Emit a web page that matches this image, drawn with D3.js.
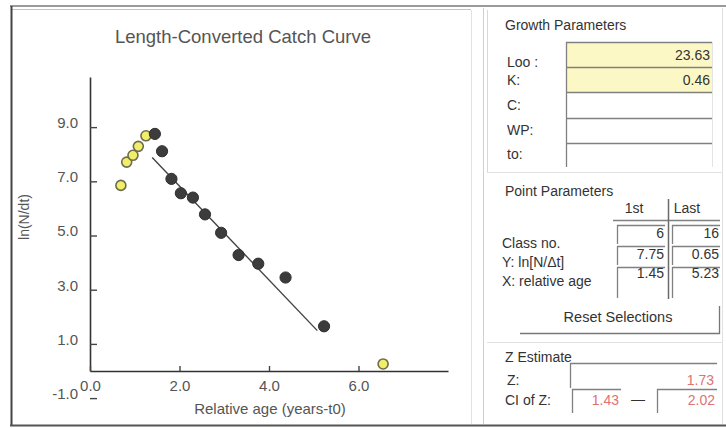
<!DOCTYPE html>
<html>
<head>
<meta charset="utf-8">
<script src="https://cdn.jsdelivr.net/npm/d3@7"></script>
<style>
  html, body { margin: 0; padding: 0; background: #fff; }
  svg { display: block; font-family: "Liberation Sans", Arial, sans-serif; }
</style>
</head>
<body>
<svg id="chart" width="726" height="428"></svg>
<script>
// Length classes of the catch curve, relative age (years - t0) and ln(N/Δt)
const classNo = [1, 2, 3, 4, 5, 6, 7, 8, 9, 10, 11, 12, 13, 14, 15, 16, 17];
const relAge  = [0.69, 0.82, 0.96, 1.08, 1.25, 1.45, 1.61, 1.82, 2.03, 2.30, 2.57, 2.93, 3.32, 3.76, 4.37, 5.23, 6.55];
const lnNdt   = [5.85, 6.71, 6.96, 7.29, 7.68, 7.75, 7.11, 6.09, 5.56, 5.40, 4.78, 4.10, 3.28, 2.96, 2.45, 0.65, -0.74];
const firstClass = 6;
const lastClass = 16;

// Regression line through the selected classes (end points)
const fitAge = [1.39, 5.08];
const fitLn  = [6.88, 0.49];

// Axis ticks
const xTicks = [0, 2, 4, 6];
const xTickLabels = ["0.0", "2.0", "4.0", "6.0"];
const yTicks = [8, 6, 4, 2, 0, -2];
const yTickLabels = ["9.0", "7.0", "5.0", "3.0", "1.0", "-1.0"];

// Side panel contents
const growthLabels = ["Loo :", "K:", "C:", "WP:", "to:"];
const growthValues = ["23.63", "0.46", "", "", ""];
const pointLabels = ["Class no.", "Y: ln[N/\u0394t]", "X: relative age"];
const pointFirst = ["6", "7.75", "1.45"];
const pointLast  = ["16", "0.65", "5.23"];
const zValue = "1.73";
const zCI = ["1.43", "2.02"];

const svg = d3.select("#chart");

// ---------- frame ----------
const frame = svg.append("g");
const ln = (x1, y1, x2, y2, c, w) => frame.append("line")
  .attr("x1", x1).attr("y1", y1).attr("x2", x2).attr("y2", y2)
  .attr("stroke", c).attr("stroke-width", w);
ln(10, 6, 726, 6, "#7a7a7a", 1.5);
ln(12, 9.5, 471, 9.5, "#c4c4c4", 1);
ln(11.5, 6, 11.5, 426, "#444", 2);
ln(10, 425.5, 726, 425.5, "#555", 2);
ln(471.5, 10, 471.5, 424, "#e2e2e2", 1);
ln(483.5, 8, 483.5, 424, "#cfcfcf", 1);
ln(487.5, 10, 487.5, 172, "#d8d8d8", 1);
ln(487, 172.5, 722, 172.5, "#e2e2e2", 1);
ln(487, 342.5, 722, 342.5, "#e2e2e2", 1);
ln(722.5, 8, 722.5, 424, "#e0e0e0", 1);

// ---------- catch curve plot ----------
const x = d3.scaleLinear().domain([0, 8]).range([90, 448]);
const y = d3.scaleLinear().domain([-1, 9.85]).range([371, 77]);

const plot = svg.append("g");

plot.append("text")
  .attr("x", 243).attr("y", 43)
  .attr("text-anchor", "middle")
  .attr("font-size", 18.5)
  .attr("fill", "#555")
  .text("Length-Converted Catch Curve");

const yAxis = d3.axisLeft(y)
  .tickValues(yTicks)
  .tickFormat((d, i) => yTickLabels[i])
  .tickSizeInner(-7).tickSizeOuter(0).tickPadding(12);
const gy = plot.append("g").attr("transform", "translate(90,0)").call(yAxis);
gy.selectAll("text").attr("dy", "0.02em");

const xAxis = d3.axisBottom(x)
  .tickValues(xTicks)
  .tickFormat((d, i) => xTickLabels[i])
  .tickSizeInner(-5).tickSizeOuter(0).tickPadding(9);
const gx = plot.append("g").attr("transform", "translate(0,371)").call(xAxis);

[gx, gy].forEach(g => {
  g.select(".domain").attr("stroke", "#333").attr("stroke-width", 1.6);
  g.selectAll(".tick line").attr("stroke", "#444").attr("stroke-width", 1.4);
  g.selectAll("text").attr("fill", "#555").attr("font-size", 15)
    .attr("font-family", "\"Liberation Sans\", Arial, sans-serif");
});

plot.append("text")
  .attr("x", 270).attr("y", 414)
  .attr("text-anchor", "middle")
  .attr("font-size", 15)
  .attr("fill", "#555")
  .text("Relative age (years-t0)");

plot.append("text")
  .attr("transform", "translate(29,217) rotate(-90)")
  .attr("text-anchor", "middle")
  .attr("font-size", 14)
  .attr("fill", "#555")
  .text("ln(N/dt)");

// regression line
const fitPts = fitAge.map((a, i) => [a, fitLn[i]]);
plot.append("path")
  .attr("d", d3.line().x(d => x(d[0])).y(d => y(d[1]))(fitPts))
  .attr("fill", "none")
  .attr("stroke", "#444")
  .attr("stroke-width", 1.4);

// points: excluded classes in yellow, selected classes dark
const pts = classNo.map((c, i) => ({ c, a: relAge[i], v: lnNdt[i], sel: c >= firstClass && c <= lastClass }));
plot.append("g").selectAll("circle")
  .data(pts.filter(d => !d.sel))
  .join("circle")
  .attr("cx", d => x(d.a)).attr("cy", d => y(d.v)).attr("r", 5)
  .attr("fill", "#f1ee6a")
  .attr("stroke", "#6e6c4c")
  .attr("stroke-width", 1.6);
plot.append("g").selectAll("circle")
  .data(pts.filter(d => d.sel))
  .join("circle")
  .attr("cx", d => x(d.a)).attr("cy", d => y(d.v)).attr("r", 5.6)
  .attr("fill", "#3c3c3c")
  .attr("stroke", "#2e2e2e")
  .attr("stroke-width", 1);

// ---------- side panel ----------
const panel = svg.append("g").attr("font-size", 14).attr("fill", "#333");

function sunken(x0, y0, x1, y1, fill) {
  panel.append("rect").attr("x", x0).attr("y", y0)
    .attr("width", x1 - x0).attr("height", y1 - y0).attr("fill", fill);
  panel.append("line").attr("x1", x0).attr("y1", y0 + 0.5).attr("x2", x1).attr("y2", y0 + 0.5)
    .attr("stroke", "#808080").attr("stroke-width", 1.3);
  panel.append("line").attr("x1", x0 + 0.5).attr("y1", y0).attr("x2", x0 + 0.5).attr("y2", y1)
    .attr("stroke", "#808080").attr("stroke-width", 1.3);
}

panel.append("text").attr("x", 505).attr("y", 30).text("Growth Parameters");

const gTops = [42, 67, 92, 118, 143, 167];
const gBase = [67, 85, 110, 135, 159];
growthLabels.forEach((lab, i) => {
  sunken(566, gTops[i], 712, gTops[i + 1], i < 2 ? "#fcf8c6" : "#fff");
  panel.append("text").attr("x", 507).attr("y", gBase[i]).text(lab);
  if (growthValues[i]) {
    panel.append("text").attr("x", 710).attr("y", gTops[i] + 18)
      .attr("text-anchor", "end").text(growthValues[i]);
  }
});
panel.append("line").attr("x1", 712.5).attr("y1", 42).attr("x2", 712.5).attr("y2", 167)
  .attr("stroke", "#e4e4e4");

panel.append("text").attr("x", 505).attr("y", 196).text("Point Parameters");
panel.append("text").attr("x", 634).attr("y", 213).attr("text-anchor", "middle").text("1st");
panel.append("text").attr("x", 687).attr("y", 213).attr("text-anchor", "middle").text("Last");
panel.append("line").attr("x1", 613).attr("y1", 220.5).attr("x2", 720).attr("y2", 220.5)
  .attr("stroke", "#808080").attr("stroke-width", 1.3);
panel.append("line").attr("x1", 668.5).attr("y1", 199).attr("x2", 668.5).attr("y2", 299)
  .attr("stroke", "#6a6a6a").attr("stroke-width", 1.5);

const pTops = [225, 246, 267];
const pBots = [244, 265, 298];
const pValBase = [238, 259, 278];
const pLabBase = [248, 267, 286];
pointLabels.forEach((lab, i) => {
  sunken(617, pTops[i], 665, pBots[i], "#fff");
  sunken(672, pTops[i], 720, pBots[i], "#fff");
  panel.append("text").attr("x", 502).attr("y", pLabBase[i]).text(lab);
  panel.append("text").attr("x", 664).attr("y", pValBase[i]).attr("text-anchor", "end").text(pointFirst[i]);
  panel.append("text").attr("x", 719).attr("y", pValBase[i]).attr("text-anchor", "end").text(pointLast[i]);
});

// Reset button
panel.append("line").attr("x1", 520).attr("y1", 333.5).attr("x2", 720).attr("y2", 333.5)
  .attr("stroke", "#777").attr("stroke-width", 1.3);
panel.append("line").attr("x1", 719.5).attr("y1", 306).attr("x2", 719.5).attr("y2", 334)
  .attr("stroke", "#777").attr("stroke-width", 1.3);
panel.append("text").attr("x", 618).attr("y", 322).attr("text-anchor", "middle")
  .attr("font-size", 14.5).text("Reset Selections");

// Z estimate
panel.append("text").attr("x", 505).attr("y", 362).text("Z Estimate");
sunken(570, 363, 717, 388, "#fff");
panel.append("text").attr("x", 507).attr("y", 385).text("Z:");
panel.append("text").attr("x", 714).attr("y", 385).attr("text-anchor", "end")
  .attr("fill", "#e07272").text(zValue);

panel.append("text").attr("x", 505).attr("y", 405).text("CI of Z:");
sunken(572, 389, 621, 413, "#fff");
sunken(657, 389, 717, 413, "#fff");
panel.append("text").attr("x", 619).attr("y", 405).attr("text-anchor", "end")
  .attr("fill", "#e07272").text(zCI[0]);
panel.append("text").attr("x", 638).attr("y", 404).attr("text-anchor", "middle").text("\u2014");
panel.append("text").attr("x", 715).attr("y", 405).attr("text-anchor", "end")
  .attr("fill", "#e07272").text(zCI[1]);
</script>
</body>
</html>
